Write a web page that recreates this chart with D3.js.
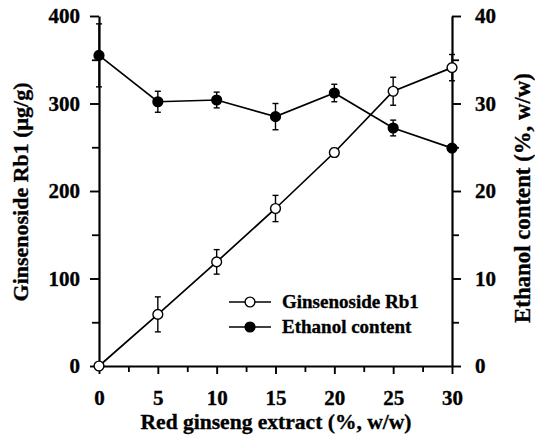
<!DOCTYPE html>
<html><head><meta charset="utf-8">
<script src="https://cdn.jsdelivr.net/npm/d3@7"></script>
<style>
html,body{margin:0;padding:0;background:#fff;}
svg{display:block;}
text{font-family:"Liberation Serif","Times New Roman",serif;font-weight:bold;fill:#000;stroke:#000;stroke-width:0.35px;}
</style></head>
<body>
<svg id="chart" width="535" height="435"></svg>
<script>
// ---- data ----
const extract = [0, 5, 10, 15, 20, 25, 30];
const rb1 = [0, 59, 119, 180, 244, 314, 341];
const rb1Err = [0, 20, 14, 15, 5, 16, 15];
const ethanol = [35.5, 30.2, 30.4, 28.5, 31.2, 27.2, 24.9];
const ethanolErr = [3.6, 1.2, 0.9, 1.5, 1.0, 0.9, 0.3];
const xTicks = [0, 5, 10, 15, 20, 25, 30];
const leftTicks = [0, 100, 200, 300, 400];
const rightTicks = [0, 10, 20, 30, 40];
const seriesNames = ["Ginsenoside Rb1", "Ethanol content"];

const svg = d3.select("#chart");
const L = 99, R = 452, T = 16, B = 366;
const x = d3.scaleLinear().domain([0, 30]).range([L, R]);
const yL = d3.scaleLinear().domain([0, 400]).range([B, T]);
const yR = d3.scaleLinear().domain([0, 40]).range([B, T]);

function styleAxis(g, fs) {
  g.select(".domain").attr("stroke", "#000").attr("stroke-width", 2.2);
  g.selectAll(".tick line").attr("stroke", "#000").attr("stroke-width", 1.9);
  g.selectAll(".tick text").style("font-size", fs + "px").style("font-family", '"Liberation Serif",serif')
    .style("font-weight", "bold").attr("stroke", "#000").attr("stroke-width", 0.35);
}
// size a text so its rendered length matches the reference span
function fitText(sel, target) {
  const base = 20;
  sel.style("font-size", base + "px");
  const len = sel.node().getComputedTextLength();
  sel.style("font-size", (base * target / len).toFixed(2) + "px");
}

// minor ticks
svg.append("g").attr("transform", `translate(0,${B})`)
  .call(d3.axisBottom(x).tickValues(d3.range(2.5, 30, 5)).tickSize(6).tickFormat("").tickSizeOuter(0))
  .call(g => { g.select(".domain").remove(); g.selectAll("line").attr("stroke", "#000").attr("stroke-width", 1.8); });
svg.append("g").attr("transform", `translate(${L},0)`)
  .call(d3.axisLeft(yL).tickValues(d3.range(50, 400, 100)).tickSize(7).tickFormat("").tickSizeOuter(0))
  .call(g => { g.select(".domain").remove(); g.selectAll("line").attr("stroke", "#000").attr("stroke-width", 1.8); });
svg.append("g").attr("transform", `translate(${R},0)`)
  .call(d3.axisRight(yR).tickValues(d3.range(5, 40, 10)).tickSize(7).tickFormat("").tickSizeOuter(0))
  .call(g => { g.select(".domain").remove(); g.selectAll("line").attr("stroke", "#000").attr("stroke-width", 1.8); });

// main axes
const gx = svg.append("g").attr("transform", `translate(0,${B})`)
  .call(d3.axisBottom(x).tickValues(xTicks).tickSize(8).tickPadding(16).tickSizeOuter(0));
styleAxis(gx, 21);
const gl = svg.append("g").attr("transform", `translate(${L},0)`)
  .call(d3.axisLeft(yL).tickValues(leftTicks).tickSize(9).tickPadding(10).tickSizeOuter(0));
styleAxis(gl, 21);
const gr = svg.append("g").attr("transform", `translate(${R},0)`)
  .call(d3.axisRight(yR).tickValues(rightTicks).tickSize(9).tickPadding(14).tickSizeOuter(0));
styleAxis(gr, 21);

// axis titles
svg.append("text").attr("x", 276).attr("y", 429).attr("text-anchor", "middle")
  .text("Red ginseng extract (%, w/w)").call(fitText, 271);
svg.append("text").attr("transform", "translate(28,192) rotate(-90)").attr("text-anchor", "middle")
  .text("Ginsenoside Rb1 (μg/g)").call(fitText, 219);
svg.append("text").attr("transform", "translate(530,198) rotate(-90)").attr("text-anchor", "middle")
  .text("Ethanol content (%, w/w)").call(fitText, 250);

// series
const rbData = extract.map((d, i) => ({ x: d, y: rb1[i], e: rb1Err[i] }));
const etData = extract.map((d, i) => ({ x: d, y: ethanol[i], e: ethanolErr[i] }));

function drawSeries(data, yScale, fill) {
  const g = svg.append("g");
  g.append("path").datum(data)
    .attr("d", d3.line().x(d => x(d.x)).y(d => yScale(d.y)))
    .attr("fill", "none").attr("stroke", "#000").attr("stroke-width", 1.7);
  const eb = g.selectAll(".eb").data(data.filter(d => d.e > 0)).join("g");
  eb.append("line").attr("x1", d => x(d.x)).attr("x2", d => x(d.x))
    .attr("y1", d => yScale(d.y - d.e)).attr("y2", d => yScale(d.y + d.e))
    .attr("stroke", "#000").attr("stroke-width", 1.4);
  [1, -1].forEach(s => {
    eb.append("line").attr("x1", d => x(d.x) - 3).attr("x2", d => x(d.x) + 3)
      .attr("y1", d => yScale(d.y + s * d.e)).attr("y2", d => yScale(d.y + s * d.e))
      .attr("stroke", "#000").attr("stroke-width", 1.4);
  });
  g.selectAll("circle").data(data).join("circle")
    .attr("cx", d => x(d.x)).attr("cy", d => yScale(d.y)).attr("r", 4.9)
    .attr("fill", fill).attr("stroke", "#000").attr("stroke-width", 1.4);
}
drawSeries(etData, yR, "#000");
drawSeries(rbData, yL, "#fff");

// legend
const leg = svg.append("g");
seriesNames.forEach((name, i) => {
  const yy = 302 + i * 25;
  leg.append("line").attr("x1", 229).attr("x2", 271).attr("y1", yy).attr("y2", yy)
    .attr("stroke", "#000").attr("stroke-width", 1.7);
  leg.append("circle").attr("cx", 250).attr("cy", yy).attr("r", 4.9)
    .attr("fill", i === 0 ? "#fff" : "#000").attr("stroke", "#000").attr("stroke-width", 1.4);
  leg.append("text").attr("x", 282).attr("y", yy + 6).style("font-size", "19px").text(name);
});
</script>
</body></html>
